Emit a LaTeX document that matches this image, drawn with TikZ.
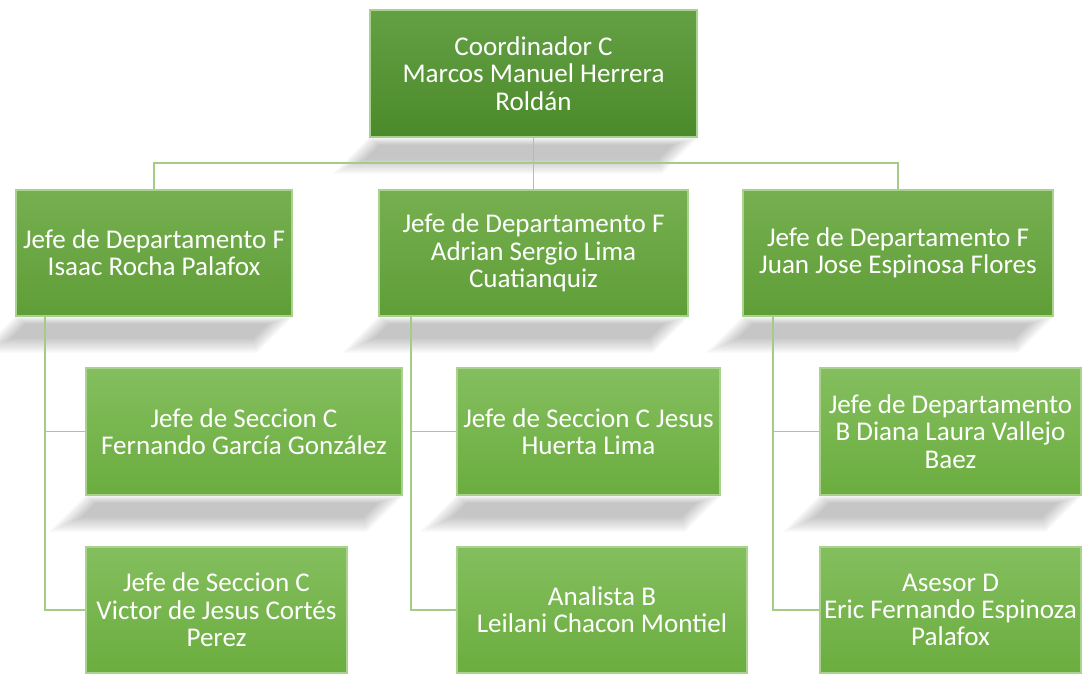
\documentclass[tikz,border=0pt]{standalone}
\usepackage{fontspec}
\setmainfont{Carlito}
\usepackage{xcolor}
\usepackage{tikz}
\usetikzlibrary{calc}

\definecolor{coordtop}{HTML}{64A044}
\definecolor{coordbot}{HTML}{4B8A2B}
\definecolor{jefetop}{HTML}{76AF50}
\definecolor{jefebot}{HTML}{5F9E37}
\definecolor{sectop}{HTML}{84BE5E}
\definecolor{secbot}{HTML}{6BAD3F}
\definecolor{edgegreen}{HTML}{A9D28E}
\definecolor{linkgreen}{HTML}{A3CD86}

\begin{document}
\begin{tikzpicture}[x=0.75pt,y=-0.75pt,
  box/.style={rectangle,draw=edgegreen,line width=1pt,text=white,align=center,inner sep=0pt,
    font=\fontsize{20.3pt}{20.5pt}\selectfont},
  topbox/.style={box,top color=coordtop,bottom color=coordbot,minimum height=127*0.75pt},
  jefebox/.style={box,top color=jefetop,bottom color=jefebot,minimum height=126*0.75pt},
  secbox/.style={box,top color=sectop,bottom color=secbot,minimum height=127*0.75pt},
  haze/.style={fill=black,opacity=.03},
  conn/.style={draw=linkgreen,line width=1.3pt}]
  \useasboundingbox (0,0) rectangle (1083,677);

  % connector points
  \coordinate (bus) at (533.5,163);
  \coordinate (trunkA) at (45,316);
  \coordinate (trunkB) at (411,316);
  \coordinate (trunkC) at (773,316);

  % top level
  \node[topbox,minimum width=327*0.75pt] (coord) at (533.5,73.5)
    {Coordinador C\\Marcos Manuel Herrera\\Roldán};

  % department heads
  \node[jefebox,minimum width=276*0.75pt] (jefeA) at (154,253)
    {Jefe de Departamento F\\Isaac Rocha Palafox};
  \node[jefebox,minimum width=309*0.75pt] (jefeB) at (533.5,253)
    {Jefe de Departamento F\\Adrian Sergio Lima\\Cuatianquiz};
  \node[jefebox,minimum width=310*0.75pt] (jefeC) at (898,253)
    {Jefe de Departamento F\\Juan Jose Espinosa Flores};

  % staff
  \node[secbox,minimum width=316*0.75pt] (secA1) at (244,431.5)
    {Jefe de Seccion C\\Fernando García González};
  \node[secbox,minimum width=261*0.75pt,minimum height=126*0.75pt] (secA2) at (216.5,610)
    {Jefe de Seccion C\\Victor de Jesus Cortés\\Perez};
  \node[secbox,minimum width=263*0.75pt] (secB1) at (588.5,431.5)
    {Jefe de Seccion C Jesus\\Huerta Lima};
  \node[secbox,minimum width=290*0.75pt,minimum height=126*0.75pt] (secB2) at (602,610)
    {Analista B\\Leilani Chacon Montiel};
  \node[secbox,minimum width=261*0.75pt] (depC1) at (950.5,431.5)
    {Jefe de Departamento\\B Diana Laura Vallejo\\Baez};
  \node[secbox,minimum width=261*0.75pt,minimum height=126*0.75pt] (aseC2) at (950.5,610)
    {Asesor D\\Eric Fernando Espinoza\\Palafox};

  % slanted soft shadows under the boxes
  \foreach \nd in {coord,jefeA,jefeB,jefeC,secA1,secB1,depC1}
    \foreach \k [evaluate=\k as \t using 2+2*\k, evaluate=\k as \b using 36-2*\k] in {0,...,7}
      \fill[haze] ($(\nd.south west)+(2.5*\k-\t,\t)$) -- ($(\nd.south east)+(-2.5*\k-\t,\t)$)
        -- ($(\nd.south east)+(-2.5*\k-\b,\b)$) -- ($(\nd.south west)+(2.5*\k-\b,\b)$) -- cycle;

  \draw[conn] (coord.south) -- (bus);
  \draw[conn] (jefeA.north) |- (bus) -| (jefeC.north);
  \draw[conn] (bus) -- (jefeB.north);
  \draw[conn] (trunkA) |- (secA1.west);
  \draw[conn] (trunkA) |- (secA2.west);
  \draw[conn] (trunkB) |- (secB1.west);
  \draw[conn] (trunkB) |- (secB2.west);
  \draw[conn] (trunkC) |- (depC1.west);
  \draw[conn] (trunkC) |- (aseC2.west);
\end{tikzpicture}
\end{document}
